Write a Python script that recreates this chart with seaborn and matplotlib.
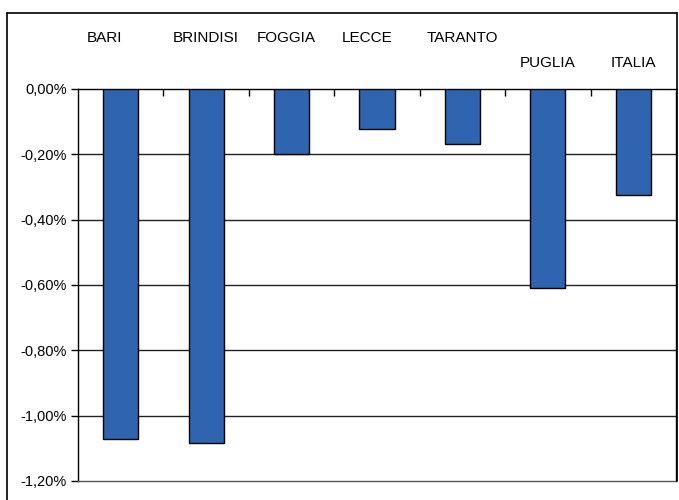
import matplotlib
matplotlib.use("Agg")
import matplotlib.pyplot as plt
from matplotlib.lines import Line2D
from matplotlib.ticker import FixedLocator, FuncFormatter
import seaborn as sns
import pandas as pd

# Variazione percentuale per provincia, regione e Italia
categories = ["BARI", "BRINDISI", "FOGGIA", "LECCE", "TARANTO", "PUGLIA", "ITALIA"]
values = [-1.07, -1.085, -0.20, -0.123, -0.168, -0.61, -0.325]
label_row = [0, 0, 0, 0, 0, 1, 1]          # 1 = label on the lower line
y_ticks = [0.0, -0.2, -0.4, -0.6, -0.8, -1.0, -1.2]

sns.set_theme(style="white")
plt.rcParams["font.family"] = ["Liberation Sans", "DejaVu Sans"]

W, H = 679, 500
fig = plt.figure(figsize=(W / 100, H / 100), dpi=100)
fig.patch.set_facecolor("white")

ax = fig.add_axes([78 / W, 1 - 481 / H, (676 - 78) / W, (481 - 89) / H])

df = pd.DataFrame({"area": categories, "var": values})
sns.barplot(data=df, x="area", y="var", color="#2E64B0", saturation=1,
            edgecolor="black", linewidth=1.0, width=0.41, ax=ax, zorder=3)

ax.set_xlim(-0.5, len(categories) - 0.5)
ax.set_ylim(min(y_ticks), max(y_ticks))
ax.set_xlabel("")
ax.set_ylabel("")

# y axis: percent with decimal comma
ax.yaxis.set_major_locator(FixedLocator(y_ticks))
ax.yaxis.set_major_formatter(
    FuncFormatter(lambda v, p: f"{v:.2f}%".replace(".", ",").replace("-0,00", "0,00")))
ax.tick_params(axis="y", direction="out", length=5, width=1, color="black",
               labelsize=10.5, labelcolor="black", pad=3, left=True)

# horizontal gridlines
for yv in y_ticks[1:-1]:
    ax.axhline(yv, color="#222222", linewidth=1.0, zorder=1)

# category axis along the zero line, tick marks pointing into the plot
ax.xaxis.set_ticks_position("top")
ax.set_xticks(range(len(categories)))
ax.set_xticks([i + 0.5 for i in range(len(categories) - 1)], minor=True)
ax.tick_params(axis="x", which="both", direction="in", length=5, width=1,
               color="black", top=True, bottom=False, labeltop=False, labelbottom=False)
for t in ax.xaxis.get_major_ticks():
    t.tick2line.set_zorder(4)

for side in ["left", "top", "right", "bottom"]:
    ax.spines[side].set_visible(True)
    ax.spines[side].set_color("black")
    ax.spines[side].set_linewidth(1.0)
ax.spines["bottom"].set_color("#555555")

# category names above the plot, two staggered lines
name_shift = [-0.19, 0.0, -0.06, -0.11, 0.0, 0.0, 0.0]
trans = ax.get_xaxis_transform()
for i, (name, row) in enumerate(zip(categories, label_row)):
    y_px = 38 if row == 0 else 63
    ax.text(i + name_shift[i], (481 - y_px) / (481 - 89), name, transform=trans,
            ha="center", va="center", fontsize=11, color="black")

# chart frame
fx = lambda px: px / W
fy = lambda py: 1 - py / H
fig.add_artist(Line2D([fx(7), fx(7)], [fy(13), fy(500)], color="black", lw=1.2))
fig.add_artist(Line2D([fx(7), fx(676.5)], [fy(13), fy(13)], color="black", lw=1.2))
fig.add_artist(Line2D([fx(676.5), fx(676.5)], [fy(13), fy(481)], color="black", lw=1.2))

fig.savefig("out.png", dpi=100, facecolor="white")
